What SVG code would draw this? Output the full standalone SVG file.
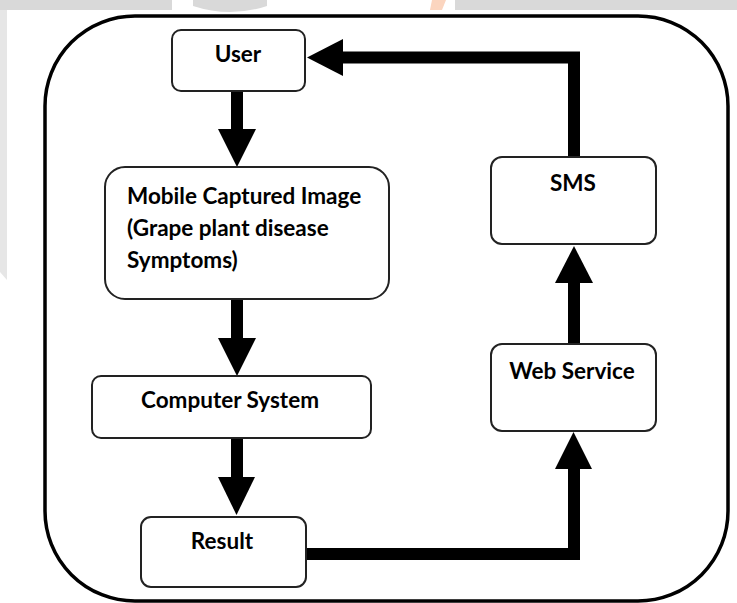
<svg xmlns="http://www.w3.org/2000/svg" width="737" height="603" viewBox="0 0 737 603">
<style>
.node rect{fill:#fff;stroke:#222;stroke-width:2}
.lbl{font-family:Lato,"Liberation Sans",sans-serif;font-weight:bold;font-size:22.5px;fill:#000}
.c{text-anchor:middle}
.conn{fill:none;stroke:#000;stroke-width:12;stroke-linejoin:miter;stroke-linecap:butt}
.head{fill:#000}
</style>
<rect width="737" height="603" fill="#fff"/>
<g id="watermark">
<rect x="0" y="0" width="172" height="10" fill="#d9d9d9"/>
<path d="M193 0H267V6Q230 18 193 6Z" fill="#d9d9d9"/>
<rect x="455" y="0" width="282" height="10" fill="#d9d9d9"/>
<path d="M432 0H446L442 10H430Z" fill="#fbd5bf"/>
<path d="M0 10H7V280L0 272Z" fill="#e6e6e6"/>
</g>
<rect id="frame" x="45" y="16" width="683" height="585" rx="90" ry="90" fill="#fff" stroke="#000" stroke-width="3.5"/>
<g id="connectors">
<path class="conn" d="M237 91V130"/>
<path class="head" d="M218 129H256L237 167Z"/>
<path class="conn" d="M237 299V339"/>
<path class="head" d="M218 338H256L237 376Z"/>
<path class="conn" d="M237 438V478"/>
<path class="head" d="M218 477H255L236.5 515Z"/>
<path class="conn" d="M305 554H574V468"/>
<path class="head" d="M555 469H592L573.5 432Z"/>
<path class="conn" d="M574 344V282"/>
<path class="head" d="M555 283H593L574 246Z"/>
<path class="conn" d="M574 157V57.5H342"/>
<path class="head" d="M343 39V76L307 57.5Z"/>
</g>
<g id="user" class="node">
<rect x="172" y="30" width="133" height="61" rx="9"/>
<text class="lbl c" x="238" y="62">User</text>
</g>
<g id="mobile" class="node">
<rect x="105" y="167" width="284" height="132" rx="20"/>
<text class="lbl" x="127" y="204">Mobile Captured Image</text>
<text class="lbl" x="127" y="236">(Grape plant disease</text>
<text class="lbl" x="127" y="268">Symptoms)</text>
</g>
<g id="computer" class="node">
<rect x="92" y="376" width="279" height="62" rx="9"/>
<text class="lbl c" x="230" y="408">Computer System</text>
</g>
<g id="result" class="node">
<rect x="141" y="517" width="165" height="70" rx="10"/>
<text class="lbl c" x="222" y="549">Result</text>
</g>
<g id="sms" class="node">
<rect x="491" y="157" width="165" height="87" rx="11"/>
<text class="lbl c" x="573" y="191">SMS</text>
</g>
<g id="webservice" class="node">
<rect x="491" y="344" width="165" height="87" rx="11"/>
<text class="lbl c" x="572" y="379">Web Service</text>
</g>
</svg>
